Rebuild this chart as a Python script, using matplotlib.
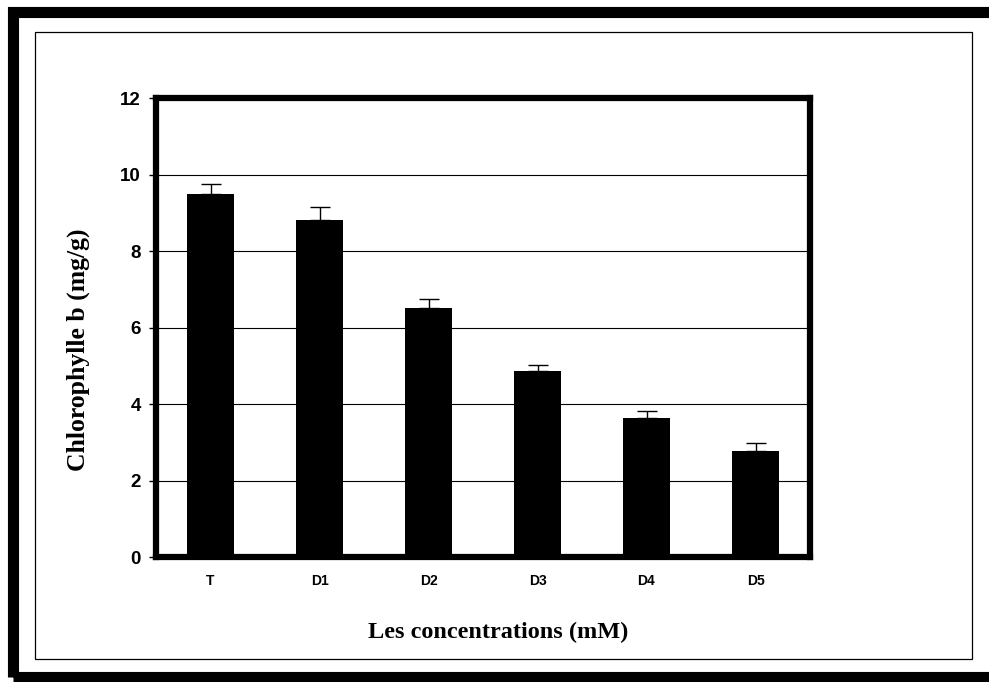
import matplotlib.pyplot as plt
from matplotlib.patches import Rectangle

categories = ["T", "D1", "D2", "D3", "D4", "D5"]
chl_b = [9.5, 8.8, 6.5, 4.85, 3.63, 2.78]
err_up = [0.25, 0.35, 0.25, 0.18, 0.2, 0.2]

W, H = 989, 682
fig = plt.figure(figsize=(W / 100, H / 100), dpi=100)
fig.patch.set_facecolor("white")

# frames around the whole figure
def px_rect(x0, y0, x1, y1, lw):
    r = Rectangle((x0 / W, 1 - y1 / H), (x1 - x0) / W, (y1 - y0) / H,
                  transform=fig.transFigure, fill=False,
                  edgecolor="black", linewidth=lw, zorder=0)
    fig.add_artist(r)

px_rect(13, 11.5, 991, 677, 8)
px_rect(35, 32, 972, 659, 0.9)

ax = fig.add_axes([156 / W, 1 - 557 / H, 654 / W, 459 / H])
x = range(len(categories))
ax.bar(x, chl_b, width=0.43, color="black", zorder=3)
ax.errorbar(x, chl_b, yerr=[[0] * len(err_up), err_up], fmt="none",
            ecolor="black", elinewidth=1.0, capsize=7, capthick=1.0, zorder=4)

ax.set_xlim(-0.5, 5.5)
ax.set_ylim(0, 12)
ax.set_yticks([0, 2, 4, 6, 8, 10, 12])
ax.yaxis.grid(True, color="black", linewidth=0.8)
ax.set_axisbelow(True)
for s in ax.spines.values():
    s.set_linewidth(4.5)

ax.set_xticks(list(x))
ax.set_xticklabels(categories, fontsize=10, fontweight="bold",
                   fontfamily="Liberation Sans")
ax.tick_params(axis="x", length=0, pad=12)
ax.tick_params(axis="y", length=5, width=1, direction="out", pad=6)
for lab in ax.get_yticklabels():
    lab.set_fontsize(13.5)
    lab.set_fontweight("bold")
    lab.set_fontfamily("Liberation Sans")

fig.text(498 / W, 1 - 632 / H, "Les concentrations (mM)", ha="center", va="center",
         fontsize=17.5, fontweight="bold", fontfamily="Liberation Serif")
fig.text(78 / W, 1 - 350 / H, "Chlorophylle b (mg/g)", ha="center", va="center",
         rotation=90, fontsize=18.5, fontweight="bold", fontfamily="Liberation Serif")

fig.savefig("out.png", dpi=100)
